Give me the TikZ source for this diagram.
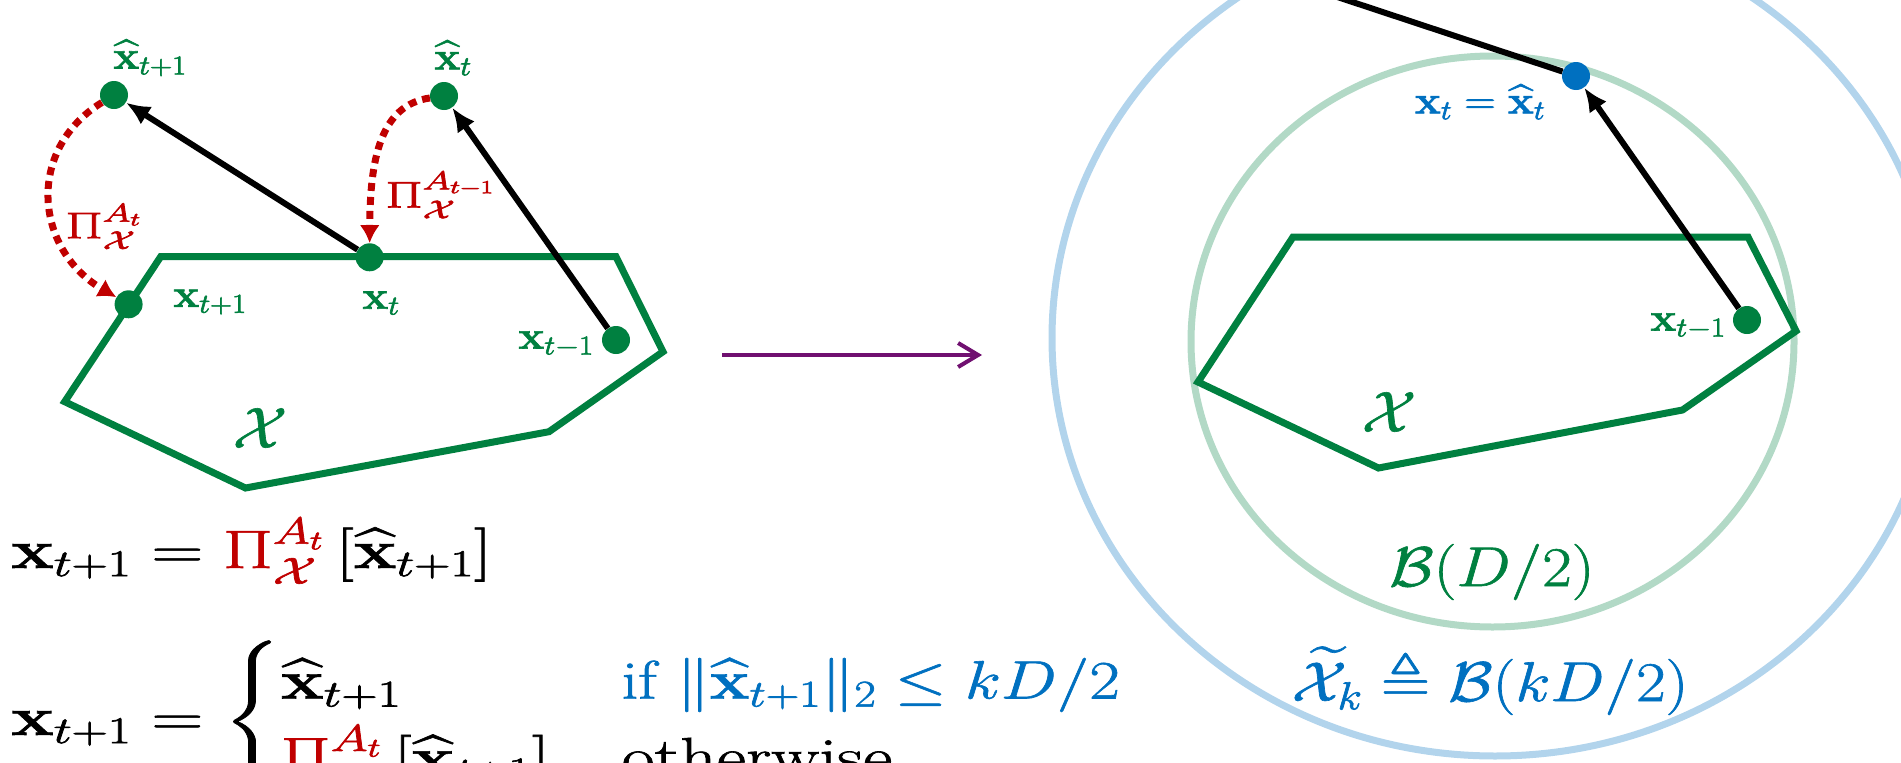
\RequirePackage{fix-cm}
\documentclass[tikz,border=0pt]{standalone}
\usepackage{amsmath, amssymb}
\usepackage{graphicx}
\usetikzlibrary{arrows.meta, positioning}
\definecolor{SetGreen}{RGB}{0,128,64}
\definecolor{ProjRed}{RGB}{192,0,0}
\definecolor{BallBlue}{RGB}{0,112,192}
\definecolor{MapPurple}{RGB}{112,16,112}
\newcommand{\vx}{\mathbf{x}}
\newcommand{\vxh}{\widehat{\mathbf{x}}}
\newcommand{\wide}[2]{\special{pdf:literal direct 2 Tr 0.6 w}\scalebox{#1}[1]{$#2$}\special{pdf:literal direct 0 Tr}}
\tikzset{
  setline/.style={SetGreen, line width=7pt},
  ring/.style={line width=7pt},
  pt/.style={circle, fill=SetGreen, minimum size=28pt, inner sep=0pt},
  gradarrow/.style={-{Latex[length=24pt, width=21pt]}, line width=6pt, black},
  projarrow/.style={-{Latex[length=18pt, width=20pt]}, ProjRed, line width=7pt, dash pattern=on 8pt off 6pt},
  lbl/.style={SetGreen, inner sep=0pt, font=\fontsize{39}{46}\selectfont},
  projlbl/.style={ProjRed, inner sep=0pt, font=\fontsize{37}{44}\selectfont},
  eqn/.style={inner sep=0pt, anchor=base west, font=\fontsize{54}{64}\selectfont},
  balllbl/.style={inner sep=0pt, anchor=base, font=\fontsize{56}{66}\selectfont},
}
\begin{document}
\begin{tikzpicture}[x=1pt, y=-1pt]
  \useasboundingbox (0,0) rectangle (1901,763);
  % left: projected iterates
  \draw[setline] (160.7,256.7) -- (616,256.7) -- (663,351.7) -- (549,431.7) -- (245.5,488) -- (64.7,401.7) -- cycle;
  \node[pt] (xh1) at (114,95) {};
  \node[pt] (xh0) at (444,96) {};
  \node[pt] (x1) at (128.6,304.3) {};
  \node[pt] (x0) at (369.6,257.3) {};
  \node[pt] (xm1) at (616,340) {};
  \draw[gradarrow] (x0) -- (xh1);
  \draw[gradarrow] (xm1) -- (xh0);
  \draw[projarrow] (xh1) .. controls (25,150) and (35,250) .. (x1);
  \draw[projarrow] (xh0) .. controls (380,105) and (370,160) .. (x0);
  \node[lbl] (lxh1) at (150,58) {\wide{1.12}{\vxh_{t+1}}};
  \node[lbl] (lxh0) at (453,58) {\wide{1.12}{\vxh_{t}}};
  \node[lbl] (lx1) at (210,302) {\wide{1.12}{\vx_{t+1}}};
  \node[lbl] (lx0) at (381,303) {\wide{1.12}{\vx_{t}}};
  \node[lbl] (lxm1) at (556,344) {\wide{1.12}{\vx_{t-1}}};
  \node[lbl, font=\fontsize{58}{68}\selectfont] (lset) at (260,428) {\wide{1.1}{\mathcal{X}}};
  \node[projlbl] (lp1) at (103.5,226.5) {\wide{1.45}{\Pi^{A_t}_{\mathcal{X}}}};
  \node[projlbl] (lp0) at (440,195) {\wide{1.45}{\Pi^{A_{t-1}}_{\mathcal{X}}}};
  % update rules
  \node[eqn] (eqproj) at (11,568) {\wide{1.33}{\vx_{t+1} = \textcolor{ProjRed}{\Pi^{A_t}_{\mathcal{X}}}\left[\vxh_{t+1}\right]}};
  \node[eqn] (eqlazy) at (11,735) {\wide{1.33}{\vx_{t+1} = \begin{cases}
      \vxh_{t+1} & \textcolor{BallBlue}{\scalebox{0.925}[1]{$\text{if } \|\vxh_{t+1}\|_2 \le kD/2$}}\\
      \textcolor{ProjRed}{\Pi^{A_t}_{\mathcal{X}}}\left[\vxh_{t+1}\right] & \text{otherwise}
    \end{cases}}};
  % map
  \coordinate (mapL) at (722,355);
  \coordinate (mapR) at (982,355);
  \draw[MapPurple, line width=4pt, -{Straight Barb[length=20pt, width=24pt]}] (mapL) -- (mapR);
  % right: enlarged ball
  \draw[ring, BallBlue!30] (1495,338) ellipse [x radius=443pt, y radius=418pt];
  \draw[ring, SetGreen!30] (1492.5,341.5) ellipse [x radius=301.5pt, y radius=285.5pt];
  \draw[setline] (1293,237) -- (1748,237) -- (1796,331) -- (1682.5,410) -- (1378.5,468) -- (1198,382) -- cycle;
  \node[pt] (xm1R) at (1747,320) {};
  \node[pt, fill=BallBlue] (x0R) at (1576,76) {};
  \coordinate (xh1R) at (1292,-18);
  \draw[gradarrow] (xm1R) -- (x0R);
  \draw[gradarrow] (x0R) -- (xh1R);
  \node[lbl, text=BallBlue] (lx0R) at (1480,102) {\wide{1.12}{\vx_t = \vxh_t}};
  \node[lbl] (lxm1R) at (1688,326) {\wide{1.12}{\vx_{t-1}}};
  \node[lbl, font=\fontsize{58}{68}\selectfont] (lsetR) at (1389,412) {\wide{1.1}{\mathcal{X}}};
  \node[balllbl, text=SetGreen] (lball) at (1492,586) {\wide{1.15}{\mathcal{B}(D/2)}};
  \node[balllbl, text=BallBlue] (lbigball) at (1490,701) {\wide{1.15}{\widetilde{\mathcal{X}}_k \triangleq \mathcal{B}(kD/2)}};
\end{tikzpicture}
\end{document}
